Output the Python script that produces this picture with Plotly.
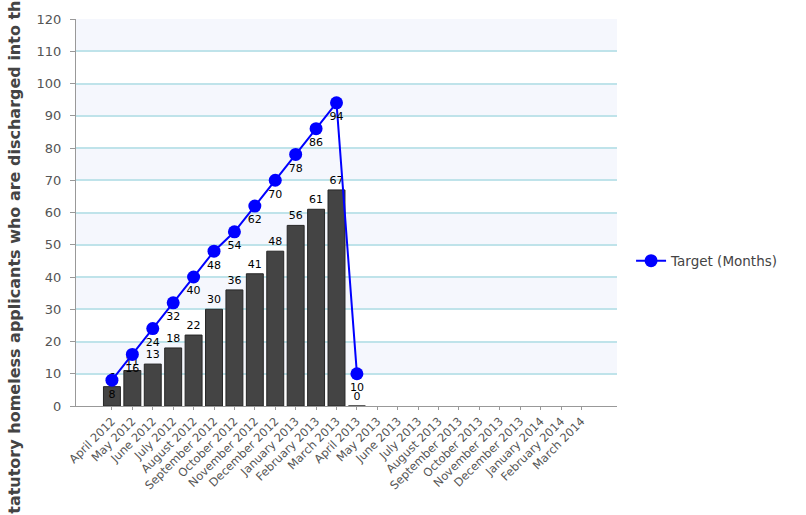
import plotly.graph_objects as go

months = ["April 2012", "May 2012", "June 2012", "July 2012", "August 2012",
          "September 2012", "October 2012", "November 2012", "December 2012",
          "January 2013", "February 2013", "March 2013", "April 2013",
          "May 2013", "June 2013", "July 2013", "August 2013", "September 2013",
          "October 2013", "November 2013", "December 2013", "January 2014",
          "February 2014", "March 2014"]

actual = [6, 11, 13, 18, 22, 30, 36, 41, 48, 56, 61, 67, 0] + [None] * 11
target = [8, 16, 24, 32, 40, 48, 54, 62, 70, 78, 86, 94, 10] + [None] * 11

y_title = "tatutory homeless applicants who are discharged into th"
y_ticks = list(range(0, 121, 10))

fig = go.Figure()

fig.add_trace(go.Bar(
    x=months, y=actual, name="Actual",
    marker=dict(color="#444444", line=dict(color="#262626", width=1)),
    width=0.83,
    text=[str(v) if v is not None else "" for v in actual],
    textposition="outside",
    textfont=dict(family="DejaVu Sans", size=11, color="#000000"),
    cliponaxis=False,
    showlegend=False,
))

fig.add_trace(go.Scatter(
    x=months, y=target, name="Target (Months)",
    mode="lines+markers+text",
    line=dict(color="#0000ff", width=2),
    marker=dict(color="#0000ff", size=13),
    text=[str(v) if v is not None else "" for v in target],
    textposition="bottom center",
    textfont=dict(family="DejaVu Sans", size=11, color="#000000"),
    cliponaxis=False,
    connectgaps=False,
))

for v in range(10, 120, 20):
    fig.add_hrect(y0=v, y1=v + 10, fillcolor="#f5f7fd", line_width=0, layer="below")

fig.update_layout(
    width=806, height=515,
    margin=dict(l=76, r=189, t=17, b=109),
    plot_bgcolor="#ffffff", paper_bgcolor="#ffffff",
    font=dict(family="DejaVu Sans", color="#555555"),
    legend=dict(x=1.026, y=0.375, xanchor="left", yanchor="middle",
                font=dict(family="DejaVu Sans", size=13.5, color="#444444"),
                bgcolor="rgba(0,0,0,0)"),
    annotations=[dict(text="<b>" + y_title + "</b>", textangle=-90,
                      xref="paper", yref="paper",
                      x=(15 - 76) / 541, y=(515 - 109 - 257) / 389,
                      xanchor="center", yanchor="middle", showarrow=False,
                      font=dict(family="DejaVu Sans", size=16, color="#444444"))],
)

fig.update_xaxes(
    type="category", categoryorder="array", categoryarray=months,
    range=[-1.76, 24.74],
    tickangle=-45, tickfont=dict(family="DejaVu Sans", size=11.5, color="#555555"),
    showline=True, linecolor="#999999", linewidth=1,
    ticks="outside", ticklen=3, tickcolor="#999999",
    showgrid=False, zeroline=False,
)
fig.update_yaxes(
    range=[0, 120], tickvals=y_ticks,
    tickfont=dict(family="DejaVu Sans", size=13, color="#555555"),
    showline=True, linecolor="#999999", linewidth=1,
    ticks="outside", ticklen=5, tickcolor="#999999",
    ticklabelstandoff=6,
    showgrid=True, gridcolor="#bfe3ea", gridwidth=1.5,
    zeroline=False,
)

fig.write_html("out.html", config={"displayModeBar": False},
               post_script="document.body.style.margin='0';document.body.style.overflow='hidden';")
